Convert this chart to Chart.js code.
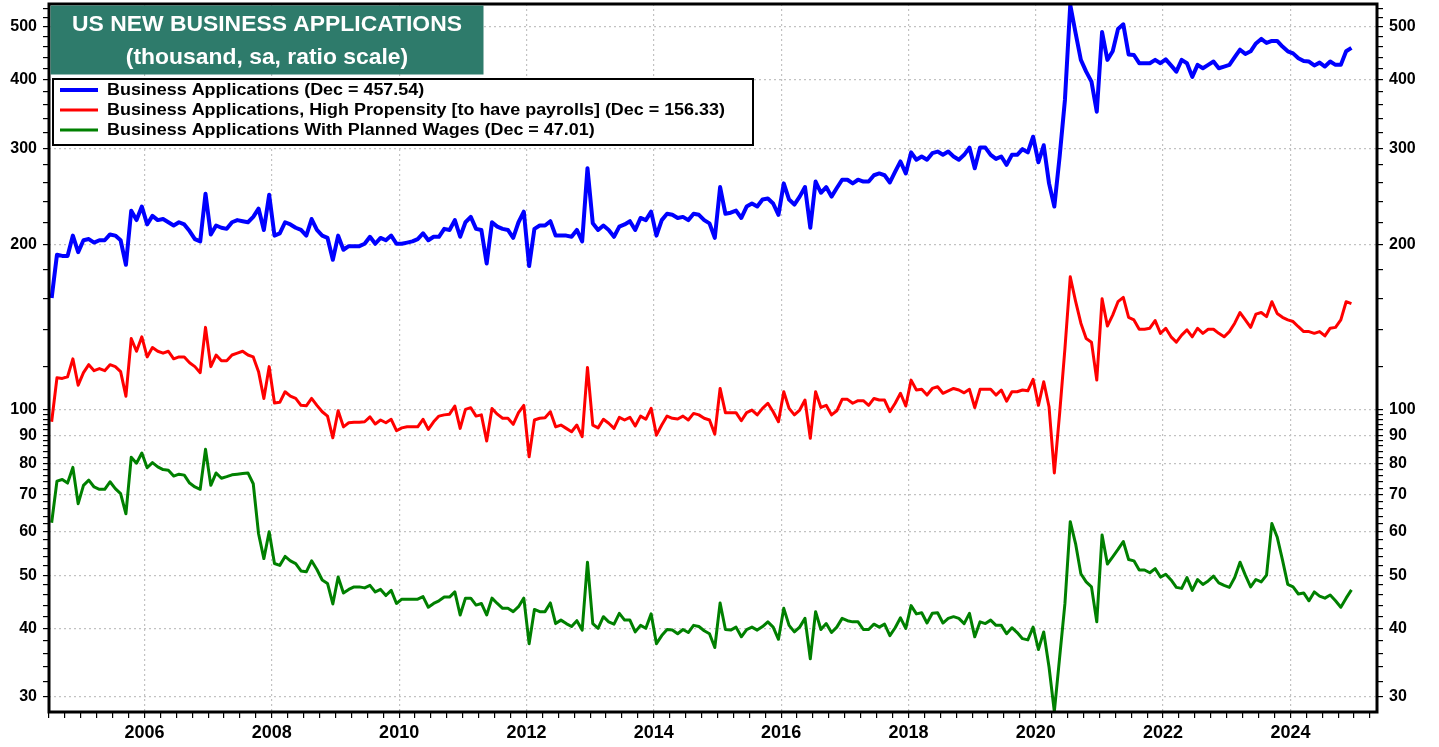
<!DOCTYPE html>
<html>
<head>
<meta charset="utf-8">
<script src="https://cdn.jsdelivr.net/npm/chart.js@4.4.1/dist/chart.umd.min.js"></script>
<style>
  body { margin: 0; background: #fff; }
  #wrap { width: 1439px; height: 747px; position: relative; }
</style>
</head>
<body>
<div id="wrap"><canvas id="chart"></canvas></div>
<script>
// monthly, Jul 2004 .. Dec 2024 (thousands, sa)
const firstMonth = 2004.5;

const businessApps = [
  160, 192, 191, 191, 208, 194,
  204, 205, 202, 204, 204, 209, 208, 204, 184, 231, 222, 235,
  218, 226, 222, 223, 220, 217, 220, 218, 212, 205, 203, 248,
  209, 217, 215, 214, 220, 222, 221, 220, 225, 233, 213, 247,
  208, 210, 220, 218, 215, 213, 208, 223, 213, 208, 206, 188,
  208, 196, 199, 199, 199, 201, 207, 201, 206, 204, 208, 201,
  201, 202, 203, 205, 210, 204, 207, 207, 214, 213, 222, 207,
  220, 225, 214, 213, 185, 220, 216, 214, 213, 206, 220, 230,
  183, 214, 217, 217, 221, 208, 208, 208, 207, 213, 203, 276,
  219, 213, 217, 213, 207, 216, 218, 221, 213, 224, 222, 230,
  208, 222, 228, 227, 224, 225, 222, 228, 227, 222, 219, 206,
  255, 228, 229, 231, 224, 235, 238, 235, 242, 243, 238, 227,
  259, 242, 237, 245, 255, 215, 261, 249, 255, 245, 254, 263,
  263, 259, 263, 261, 261, 268, 270, 268, 260, 272, 284, 270,
  295, 286, 290, 286, 294, 296, 292, 296, 290, 286, 292, 301,
  276, 301, 301, 292, 287, 290, 280, 292, 292, 299, 295, 315,
  283, 304, 259, 235, 290, 368, 548, 487, 435, 414, 397, 350,
  489, 435, 451, 495, 505, 445, 444, 429, 429, 429, 435, 429,
  436, 425, 414, 435, 429, 405, 426, 420, 426, 432, 420, 423,
  426, 440, 454, 446, 451, 466, 475, 467, 471, 471, 460, 451,
  447, 438, 433, 432, 425, 430, 423, 432, 426, 426, 451, 457.54
];

const highPropensity = [
  95.2, 114.5, 114.2, 115, 124, 111,
  117, 121, 118, 119, 118, 121, 120, 117.5, 106, 135, 128, 136,
  125, 130, 128, 127, 128, 124, 125, 125, 122, 120, 117, 141.5,
  120, 126, 123, 123, 126, 127, 128, 126, 125, 117.5, 105, 120,
  103, 103.3, 108, 106, 105, 102, 101.8, 105, 102, 99.3, 97.5, 89,
  99.7, 93.2, 94.8, 95, 95, 95.2, 97.2, 94.3, 95.9, 94.8, 96.2, 91.7,
  92.8, 93.2, 93.2, 93.2, 96.2, 92.2, 95.2, 97.5, 98, 98.3, 101.7, 92.6,
  100.3, 101, 97.5, 98, 87.8, 100.7, 98.3, 96.6, 96.6, 94.2, 98.9, 102,
  82.2, 95.9, 96.6, 96.8, 99.3, 93.2, 93.9, 92.6, 91.3, 93.9, 89.4, 119.6,
  93.9, 92.8, 96.2, 94.6, 92.6, 97, 95.9, 97, 93.5, 97.5, 96.2, 100.7,
  90, 93.9, 97.5, 96.6, 96.3, 97.5, 95.9, 98.6, 98, 96.6, 95.9, 90.4,
  109.5, 98.9, 98.9, 98.9, 95.6, 98.9, 100, 98, 100.7, 102.9, 99.3, 95.2,
  108, 100.7, 98, 100, 104.3, 88.8, 108, 101.1, 102, 98, 99.7, 104.6,
  104.6, 102.9, 104, 104, 102, 105, 104.3, 104.3, 99.3, 102.9, 107.3, 101.7,
  113.4, 108.8, 109.1, 106.5, 109.5, 110.3, 107.3, 108.4, 109.5, 108.8, 107.5, 109.1,
  101.1, 109.1, 109.1, 109.1, 106.5, 108.8, 103.8, 108, 108, 108.8, 108.4, 113.8,
  102, 112.6, 101.4, 76.8, 98.6, 129.5, 175, 158, 144, 135, 133, 113.4,
  159.5, 142.3, 149, 157.6, 160.5, 147.5, 146, 140.4, 140.4, 141, 145.6, 138,
  141, 136, 133, 137, 140, 136, 141, 138, 140.4, 140.4, 138, 136,
  139, 144, 150.6, 146, 141.5, 149.6, 150.6, 148, 157.6, 150, 147.6, 146,
  145, 141.9, 139, 139, 138, 139, 136.5, 141, 141.5, 146, 157.6, 156.33
];

const plannedWages = [
  62.3, 74.2, 74.7, 73.6, 78.6, 67.5,
  72.9, 74.5, 72.4, 71.7, 71.7, 74, 71.9, 70.4, 64.7, 82, 80, 83.5,
  78.5, 80.2, 78.8, 77.9, 77.7, 75.8, 76.4, 76.1, 73.6, 72.4, 71.7, 84.8,
  72.9, 76.8, 75.1, 75.6, 76.2, 76.4, 76.6, 76.8, 73.4, 59.5, 53.6, 60,
  52.5, 52.1, 54.1, 53.1, 52.5, 50.9, 50.7, 53.1, 51.2, 49, 48.3, 44.3,
  49.6, 46.4, 47.1, 47.6, 47.6, 47.4, 47.9, 46.6, 47.1, 45.9, 46.9, 44.4,
  45.2, 45.2, 45.2, 45.2, 45.7, 43.7, 44.4, 44.9, 45.6, 45.6, 46.6, 42.3,
  45.4, 45.4, 44.1, 44.4, 42.3, 45.4, 44.4, 43.5, 43.5, 42.9, 43.8, 45.4,
  37.5, 43.3, 42.9, 42.9, 44.5, 40.8, 41.4, 40.8, 40.3, 41.3, 39.7, 52.8,
  40.8, 40, 42, 41.1, 40.7, 42.6, 41.4, 41.4, 39.4, 40.5, 40, 42.5,
  37.5, 38.8, 39.8, 39.7, 39.1, 39.8, 39.3, 40.5, 40.3, 39.6, 39.1, 36.9,
  44.5, 39.8, 39.7, 40.2, 38.6, 39.8, 40.2, 39.7, 40.3, 41.1, 40.2, 38.2,
  43.5, 40.5, 39.4, 40.2, 41.7, 35.2, 42.9, 39.8, 40.8, 39.3, 40.2, 41.7,
  41.3, 41.1, 41.1, 39.8, 39.8, 40.7, 40.2, 40.7, 38.8, 40.1, 41.8, 40,
  44, 42.5, 42.7, 40.9, 42.6, 42.7, 40.9, 41.7, 42, 41.7, 40.8, 42.6,
  38.6, 41.1, 40.8, 41.4, 40.5, 40.5, 39.1, 40.1, 39.3, 38.3, 38.1, 40.2,
  36.6, 39.4, 34, 28.2, 35.4, 44.4, 62.6, 57.1, 50.3, 48.6, 47.6, 41.1,
  59.2, 52.4, 54, 55.7, 57.6, 53.4, 53.1, 51.1, 51.1, 50.5, 51.4, 49.6,
  50.2, 49, 47.5, 47.3, 49.5, 46.9, 49.1, 48.1, 48.8, 49.8, 48.4, 47.9,
  47.5, 49.5, 52.8, 50, 47.6, 49.1, 48.6, 50, 62.1, 58.7, 53.3, 48.1,
  47.6, 46.2, 46.4, 44.9, 46.6, 45.8, 45.4, 46, 44.9, 43.7, 45.4, 47.01
];

const seriesLabels = [
  'Business Applications (Dec = 457.54)',
  'Business Applications, High Propensity [to have payrolls] (Dec = 156.33)',
  'Business Applications With Planned Wages (Dec = 47.01)'
];
const seriesColors = ['#0000ff', '#ff0000', '#008000'];
const seriesWidths = [4, 3, 3];

const yMajorTicks = [30, 40, 50, 60, 70, 80, 90, 100, 200, 300, 400, 500];
const xLabelYears = [2006, 2008, 2010, 2012, 2014, 2016, 2018, 2020, 2022, 2024];

const titleLines = ['US NEW BUSINESS APPLICATIONS', '(thousand, sa, ratio scale)'];

// tick positions: quarterly on x, minor steps on the ratio axis
const xTickValues = [];
for (let q = 2004 * 4 + 2; q <= 2025 * 4 + 1; q++) xTickValues.push(q / 4);
const yTickValues = [];
for (let v = 30; v < 100; v += 2) yTickValues.push(v);
for (let v = 100; v <= 540; v += 20) yTickValues.push(v);
yMajorTicks.forEach(v => { if (!yTickValues.includes(v)) yTickValues.push(v); });
yTickValues.sort((a, b) => a - b);

function toPoints(values) {
  return values.map((v, i) => ({ x: firstMonth + (i + 0.5) / 12, y: v }));
}

const FONT = '"Liberation Sans", Arial, sans-serif';
const gridGrey = '#c2c2c2';

function yAxis(position, width, onArea) {
  return {
    type: 'logarithmic',
    position: position,
    min: 28.15,
    max: 550,
    afterBuildTicks: s => { s.ticks = yTickValues.map(v => ({ value: v })); },
    afterFit: s => { s.width = width; s.paddingTop = 0; s.paddingBottom = 0; },
    ticks: {
      autoSkip: false,
      padding: 6,
      color: '#000',
      font: { family: FONT, size: 16, weight: 'bold' },
      callback: v => yMajorTicks.includes(v) ? String(v) : ''
    },
    grid: {
      drawOnChartArea: onArea,
      color: c => (c.tick && yMajorTicks.includes(c.tick.value)) ? gridGrey : 'rgba(0,0,0,0)',
      lineWidth: 1.2,
      borderDash: [2, 3],
      tickColor: '#000',
      tickLength: 6,
      tickWidth: 1.2
    },
    border: { display: false, dash: [2, 3] }
  };
}

function drawScaledText(ctx, text, x, y, sx, align) {
  ctx.save();
  ctx.translate(x, y);
  ctx.scale(sx, 1);
  ctx.textAlign = align;
  ctx.fillText(text, 0, 0);
  ctx.restore();
}

const overlay = {
  id: 'overlay',
  afterDraw(chart) {
    const { ctx, chartArea: a } = chart;
    ctx.save();

    // plot frame
    ctx.strokeStyle = '#000';
    ctx.lineWidth = 3;
    ctx.strokeRect(a.left, a.top, a.right - a.left, a.bottom - a.top);

    // title box
    ctx.fillStyle = '#2e7b6b';
    ctx.fillRect(a.left + 1.5, a.top + 1.5, 433, 69);
    ctx.fillStyle = '#fff';
    ctx.textBaseline = 'middle';
    ctx.font = 'bold 22px ' + FONT;
    drawScaledText(ctx, titleLines[0], 267, 25, 1.04, 'center');
    drawScaledText(ctx, titleLines[1], 267, 58, 1.04, 'center');

    // legend box
    ctx.fillStyle = '#fff';
    ctx.fillRect(53, 79, 700, 66);
    ctx.strokeStyle = '#000';
    ctx.lineWidth = 2;
    ctx.strokeRect(53, 79, 700, 66);
    ctx.font = 'bold 16px ' + FONT;
    seriesLabels.forEach((label, i) => {
      const y = 90 + i * 20;
      ctx.strokeStyle = seriesColors[i];
      ctx.lineWidth = seriesWidths[i];
      ctx.beginPath();
      ctx.moveTo(60, y);
      ctx.lineTo(98, y);
      ctx.stroke();
      ctx.fillStyle = '#000';
      drawScaledText(ctx, label, 107, y + 1, 1.12, 'left');
    });
    ctx.restore();
  }
};

new Chart(document.getElementById('chart'), {
  type: 'line',
  data: {
    datasets: [businessApps, highPropensity, plannedWages].map((vals, i) => ({
      label: seriesLabels[i],
      data: toPoints(vals),
      borderColor: seriesColors[i],
      borderWidth: seriesWidths[i],
      borderJoinStyle: 'round',
      pointRadius: 0,
      tension: 0,
      fill: false
    }))
  },
  options: {
    responsive: true,
    maintainAspectRatio: false,
    animation: false,
    devicePixelRatio: 1,
    layout: { padding: { top: 4, left: 0, right: 0, bottom: 0 } },
    plugins: { legend: { display: false }, tooltip: { enabled: false }, title: { display: false } },
    scales: {
      x: {
        type: 'linear',
        min: 2004.5,
        max: 2025.36,
        afterBuildTicks: s => { s.ticks = xTickValues.map(v => ({ value: v })); },
        afterFit: s => { s.height = 35; s.paddingLeft = 0; s.paddingRight = 0; },
        ticks: {
          autoSkip: false,
          maxRotation: 0,
          padding: 4,
          color: '#000',
          font: { family: FONT, size: 18, weight: 'bold' },
          callback: v => xLabelYears.includes(v) ? String(v) : ''
        },
        grid: {
          color: c => (c.tick && xLabelYears.includes(c.tick.value)) ? gridGrey : 'rgba(0,0,0,0)',
          lineWidth: 1.2,
          borderDash: [2, 3],
          tickColor: '#000',
          tickLength: 6,
          tickWidth: 1.2
        },
        border: { display: false, dash: [2, 3] }
      },
      y: yAxis('left', 49, true),
      y2: yAxis('right', 62, false)
    }
  },
  plugins: [overlay]
});
</script>
</body>
</html>
